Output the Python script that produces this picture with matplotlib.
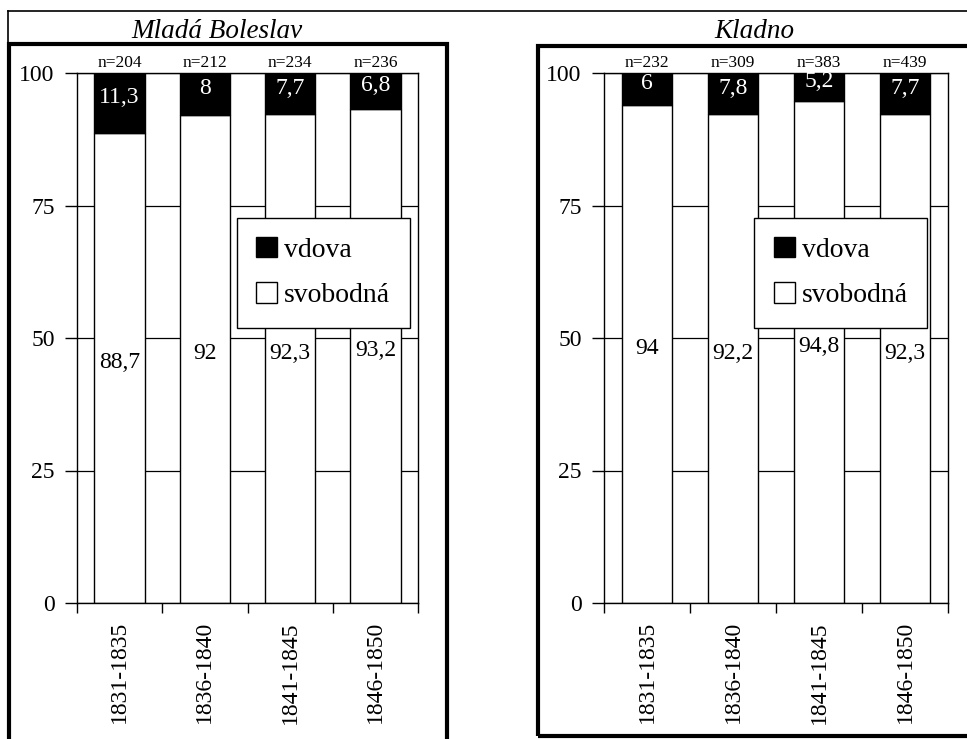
import matplotlib
matplotlib.use("Agg")
import matplotlib.pyplot as plt
from matplotlib.patches import Rectangle
from matplotlib.lines import Line2D
import numpy as np

plt.rcParams['font.family'] = ['Liberation Serif', 'DejaVu Serif']

periods = ["1831-1835", "1836-1840", "1841-1845", "1846-1850"]
mb_svobodna = [88.7, 92, 92.3, 93.2]
mb_vdova = [11.3, 8, 7.7, 6.8]
mb_n = [204, 212, 234, 236]
kl_svobodna = [94, 92.2, 94.8, 92.3]
kl_vdova = [6, 7.8, 5.2, 7.7]
kl_n = [232, 309, 383, 439]
titles = ["Mladá Boleslav", "Kladno"]
legend_labels = ["vdova", "svobodná"]

W, H = 967, 739
fig = plt.figure(figsize=(W / 100, H / 100), dpi=100)

def fx(px):
    return px / W

def fy(py):
    return 1 - py / H

def fmt(v):
    return f"{v:g}".replace('.', ',')

def panel(ax, svob, vdova, ns, leg_x):
    x = np.arange(len(periods))
    ax.set_axisbelow(True)
    ax.yaxis.grid(True, color='black', linewidth=0.9)
    ax.bar(x, svob, width=0.59, color='white', edgecolor='black', linewidth=1.0, zorder=2)
    ax.bar(x, vdova, bottom=svob, width=0.59, color='black', edgecolor='black', linewidth=1.0, zorder=2)
    for xi, s, v, n in zip(x, svob, vdova, ns):
        ax.text(xi, s / 2 + 1, fmt(s), ha='center', va='center', fontsize=17, color='black', zorder=3)
        ax.text(xi, s + v / 2 + 1, fmt(v), ha='center', va='center', fontsize=17, color='white', zorder=3)
        ax.text(xi, 100.3, f"n={n}", ha='center', va='bottom', fontsize=12.5, color='black')
    ax.set_xlim(-0.5, len(periods) - 0.5)
    ax.set_ylim(0, 100)
    ax.set_yticks([0, 25, 50, 75, 100])
    ax.tick_params(axis='y', direction='out', length=9, width=1, labelsize=17, pad=7)
    ax.set_xticks(np.arange(len(periods) + 1) - 0.5)
    ax.set_xticklabels([])
    ax.tick_params(axis='x', which='major', direction='out', length=7, width=1)
    ax.set_xticks(x, minor=True)
    ax.set_xticklabels(periods, minor=True, rotation=90, fontsize=17)
    ax.tick_params(axis='x', which='minor', length=0, pad=13)
    for s in ax.spines.values():
        s.set_linewidth(1.0)
    handles = [Rectangle((0, 0), 1, 1, facecolor='black', edgecolor='black'),
               Rectangle((0, 0), 1, 1, facecolor='white', edgecolor='black')]
    leg = ax.legend(handles, legend_labels, loc='upper left', bbox_to_anchor=(leg_x, 0.727),
                    fontsize=20, frameon=True, fancybox=False, edgecolor='black',
                    framealpha=1, handlelength=0.75, handleheight=0.75, handletextpad=0.25,
                    labelspacing=0.7, borderpad=0.7, borderaxespad=0)
    leg.get_frame().set_linewidth(1.0)
    leg.set_zorder(5)

ax1 = fig.add_axes([fx(77), fy(603), fx(418) - fx(77), fy(73) - fy(603)])
panel(ax1, mb_svobodna, mb_vdova, mb_n, 0.469)
ax2 = fig.add_axes([fx(604), fy(603), fx(948) - fx(604), fy(73) - fy(603)])
panel(ax2, kl_svobodna, kl_vdova, kl_n, 0.437)

# frames
fig.add_artist(Line2D([fx(8), 1], [fy(11), fy(11)], color='black', linewidth=1.2))
fig.add_artist(Line2D([fx(8), fx(8)], [fy(11), fy(44)], color='black', linewidth=1.2))
fig.add_artist(Rectangle((fx(9), fy(745)), fx(447) - fx(9), fy(44) - fy(745),
                         fill=False, edgecolor='black', linewidth=3.0))
fig.add_artist(Rectangle((fx(538), fy(736)), fx(980) - fx(538), fy(46) - fy(736),
                         fill=False, edgecolor='black', linewidth=3.0))

fig.text(fx(217), fy(38), titles[0], ha='center', va='baseline', fontsize=19.5, style='italic')
fig.text(fx(754), fy(38), titles[1], ha='center', va='baseline', fontsize=19.5, style='italic')

fig.savefig("out.png", dpi=100)
